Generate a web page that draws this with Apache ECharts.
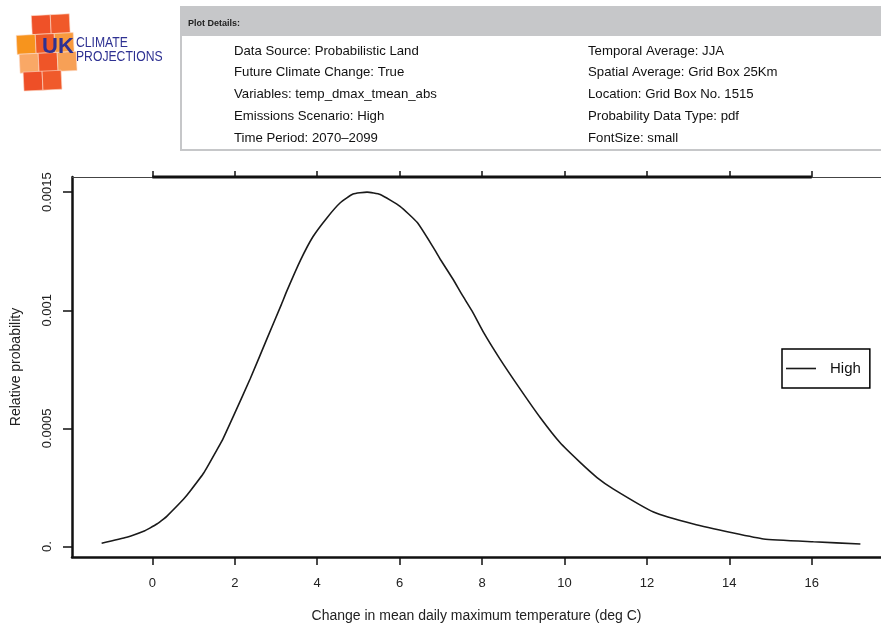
<!DOCTYPE html>
<html>
<head>
<meta charset="utf-8">
<title>UKCP pdf</title>
<script src="https://cdn.jsdelivr.net/npm/echarts@6/dist/echarts.min.js"></script>
<style>
  html, body { margin: 0; padding: 0; background: #fff; }
  #chart { width: 881px; height: 628px; }
</style>
</head>
<body>
<div id="chart"></div>
<script>
'use strict';

// values
let tempChange = [-1.23, -0.62, -0.18, -0.06, 0.11, 0.27, 0.35, 0.76, 0.92, 1.25, 1.57, 1.72, 1.97, 2.38,
    2.79, 3.13, 3.27, 3.59, 3.90, 4.24, 4.56, 4.87, 5.21, 5.53, 6.01, 6.43, 6.82, 6.99, 7.30,
    7.51, 7.76, 8.04, 8.44, 8.93, 9.41, 9.89, 10.38, 10.79, 11.19, 12.16, 13.13, 14.10, 14.83, 16.04, 17.18];
let relProb = [0.0000135, 0.0000389, 0.0000668, 0.0000780, 0.0000951, 0.000116, 0.0001276, 0.000201, 0.000235,
    0.000312, 0.000410, 0.000458, 0.000553, 0.000712, 0.000883, 0.001024, 0.001084, 0.00121, 0.001312,
    0.001392, 0.001455, 0.001492, 0.0015, 0.001490, 0.00144, 0.001371, 0.001265, 0.001215, 0.00113,
    0.001067, 0.000996, 0.000905, 0.000792, 0.000665, 0.000546, 0.00044, 0.000356, 0.000292, 0.000243,
    0.000146, 0.000095, 0.000057, 0.000032, 0.00002, 0.0000106];

let xTicks = [0, 2, 4, 6, 8, 10, 12, 14, 16];
let yTicks = [0, 0.0005, 0.001, 0.0015];
let yTickLabels = ['0.', '0.0005', '0.001', '0.0015'];

let detailsLeft = ['Data Source: Probabilistic Land', 'Future Climate Change: True',
    'Variables: temp_dmax_tmean_abs', 'Emissions Scenario: High', 'Time Period: 2070\u20132099'];
let detailsRight = ['Temporal Average: JJA', 'Spatial Average: Grid Box 25Km',
    'Location: Grid Box No. 1515', 'Probability Data Type: pdf', 'FontSize: small'];

let FONT = '"Liberation Sans", Arial, Helvetica, sans-serif';
let xMin = -1.949, xMax = 17.68;
let yMin = -0.0000444, yMax = 0.001564;

let series = tempChange.map(function(t, i){ return [t, relProb[i]]; });

let graphics = [];
// plot details box
graphics.push({type: 'rect', shape: {x: 181, y: 7, width: 710, height: 29}, style: {fill: '#c6c7c9'}, silent: true});
graphics.push({type: 'rect', shape: {x: 181, y: 7, width: 710, height: 143},
    style: {fill: 'none', stroke: '#c6c7c9', lineWidth: 2}, silent: true});
graphics.push({type: 'text', x: 188, y: 24, silent: true,
    style: {text: 'Plot Details:', font: 'bold 9px ' + FONT, fill: '#222', verticalAlign: 'middle'}});
detailsLeft.forEach(function(s, i){
    graphics.push({type: 'text', x: 234, y: 51 + i * 21.8, silent: true,
        style: {text: s, font: '13.2px ' + FONT, fill: '#111', verticalAlign: 'middle'}});
});
detailsRight.forEach(function(s, i){
    graphics.push({type: 'text', x: 588, y: 51 + i * 21.8, silent: true,
        style: {text: s, font: '13.2px ' + FONT, fill: '#111', verticalAlign: 'middle'}});
});

// logo squares
let logoSquares = [
    [33, 15, '#ef5128'], [52, 15, '#f0592a'],
    [17, 34, '#f7941d'], [36, 34, '#ee5a27'], [55, 34, '#f89a3e'],
    [19, 53, '#f9a866'], [38, 53, '#ef5528'], [57, 53, '#f7a056'],
    [22, 71, '#ee4f27'], [41, 71, '#f05a2b']
];
let logoChildren = logoSquares.map(function(sq){
    return {type: 'rect', shape: {x: sq[0], y: sq[1], width: 19, height: 19}, silent: true,
        style: {fill: sq[2], stroke: '#fbd9c8', lineWidth: 0.6}};
});
graphics.push({type: 'group', originX: 45, originY: 50, rotation: 0.05, silent: true, children: logoChildren});
graphics.push({type: 'text', x: 42, y: 47, silent: true,
    style: {text: 'UK', font: 'bold 22px ' + FONT, fill: '#2e3192', verticalAlign: 'middle'}});
graphics.push({type: 'text', x: 76, y: 43, scaleX: 0.87, silent: true,
    style: {text: 'CLIMATE', font: '14px ' + FONT, fill: '#2e3192', verticalAlign: 'middle'}});
graphics.push({type: 'text', x: 76, y: 57, scaleX: 0.87, silent: true,
    style: {text: 'PROJECTIONS', font: '14px ' + FONT, fill: '#2e3192', verticalAlign: 'middle'}});

let myChart = echarts.init(document.getElementById('chart'));
let option = {
    animation: false,
    backgroundColor: '#fff',
    textStyle: {fontFamily: FONT},
    grid: {left: 72, right: 0, top: 177, bottom: 70, containLabel: false},
    legend: {
        data: [{name: 'High', icon: 'rect'}],
        left: 782, top: 349,
        orient: 'vertical',
        padding: [11, 9, 11, 4],
        itemWidth: 30, itemHeight: 1.6,
        borderColor: '#000', borderWidth: 1.5,
        itemStyle: {color: '#1a1a1a'},
        textStyle: {fontSize: 15, color: '#111', fontFamily: FONT, padding: [0, 0, 0, 9],
            lineHeight: 17}
    },
    xAxis: [
        {
            type: 'value', position: 'bottom', min: xMin, max: xMax,
            name: 'Change in mean daily maximum temperature (deg C)',
            nameLocation: 'middle', nameGap: 52,
            nameTextStyle: {fontSize: 14, color: '#222', fontFamily: FONT},
            axisLine: {onZero: false, lineStyle: {color: '#111', width: 2.5}},
            axisTick: {customValues: xTicks, length: 8, lineStyle: {color: '#111', width: 1.5}},
            axisLabel: {customValues: xTicks, margin: 20, fontSize: 13, color: '#222', fontFamily: FONT},
            splitLine: {show: false}
        },
        {
            type: 'value', position: 'top', min: xMin, max: xMax,
            axisLine: {onZero: false, lineStyle: {color: '#444', width: 1}},
            axisTick: {customValues: xTicks, length: 6, lineStyle: {color: '#111', width: 1.5}},
            axisLabel: {show: false},
            splitLine: {show: false}
        }
    ],
    yAxis: {
        type: 'value', min: yMin, max: yMax,
        name: 'Relative probability',
        nameLocation: 'middle', nameGap: 49,
        nameTextStyle: {fontSize: 14, color: '#222', fontFamily: FONT},
        axisLine: {onZero: false, lineStyle: {color: '#111', width: 2.5}},
        axisTick: {customValues: yTicks, length: 9, lineStyle: {color: '#111', width: 1.5}},
        axisLabel: {
            customValues: yTicks, rotate: 90, margin: 18, fontSize: 13, color: '#222', fontFamily: FONT,
            formatter: function(v){
                let idx = yTicks.findIndex(function(t){ return Math.abs(t - v) < 1e-9; });
                return idx >= 0 ? yTickLabels[idx] : '';
            }
        },
        splitLine: {show: false}
    },
    series: [
        {
            name: 'High', type: 'line', data: series,
            symbol: 'none', smooth: 0.15,
            lineStyle: {color: '#1a1a1a', width: 1.6},
            itemStyle: {color: '#1a1a1a'}
        },
        {
            // thick top axis segment between first and last tick
            name: 'topAxis', type: 'line', xAxisIndex: 1, silent: true,
            data: [[xTicks[0], yMax], [xTicks[xTicks.length - 1], yMax]],
            symbol: 'none', clip: false,
            lineStyle: {color: '#111', width: 3}
        }
    ],
    graphic: graphics
};
myChart.setOption(option);
</script>
</body>
</html>
